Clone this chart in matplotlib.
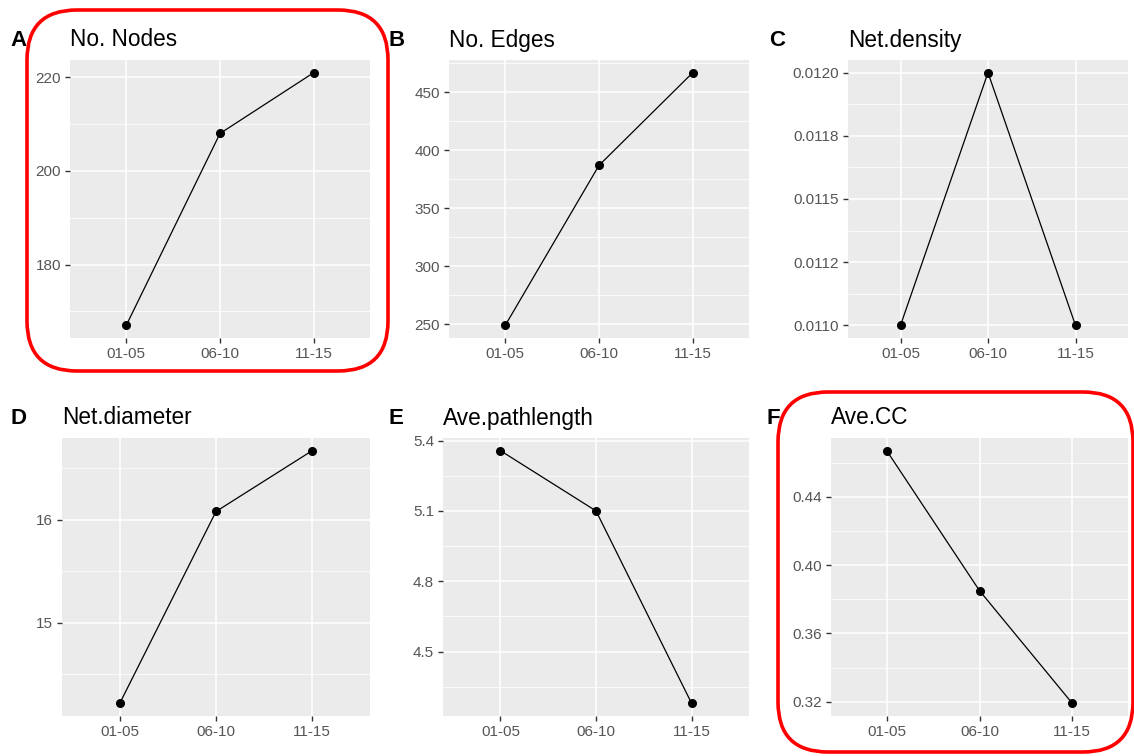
import matplotlib
matplotlib.use("Agg")
import matplotlib.pyplot as plt
from matplotlib.patches import FancyBboxPatch
import numpy as np

plt.rcParams['font.family'] = ['Liberation Sans', 'DejaVu Sans']

periods = ["01-05", "06-10", "11-15"]

nodes = [167, 208, 221]
edges = [249, 387, 467]
density = [0.0110, 0.0120, 0.0110]
diameter = [14.22, 16.08, 16.67]
pathlength = [5.357, 5.10, 4.279]
ave_cc = [0.467, 0.385, 0.319]

titles = ["No. Nodes", "No. Edges", "Net.density", "Net.diameter", "Ave.pathlength", "Ave.CC"]
letters = ["A", "B", "C", "D", "E", "F"]
series = [nodes, edges, density, diameter, pathlength, ave_cc]

major_ticks = [
    [180, 200, 220],
    [250, 300, 350, 400, 450],
    [0.011, 0.01125, 0.0115, 0.01175, 0.012],
    [15, 16],
    [4.5, 4.8, 5.1, 5.4],
    [0.32, 0.36, 0.40, 0.44],
]
tick_labels = [
    ["180", "200", "220"],
    ["250", "300", "350", "400", "450"],
    ["0.0110", "0.0112", "0.0115", "0.0118", "0.0120"],
    ["15", "16"],
    ["4.5", "4.8", "5.1", "5.4"],
    ["0.32", "0.36", "0.40", "0.44"],
]

W, H = 1134, 756
fig = plt.figure(figsize=(W / 100, H / 100), dpi=100)

# panel rectangles in pixels (left, top, right, bottom)
panels = [
    (70, 60, 370, 338),
    (449, 60, 749, 338),
    (848, 60, 1128, 338),
    (62, 438, 370, 716),
    (443, 438, 749, 716),
    (831, 438, 1128, 716),
]

for i, (l, t, r, b) in enumerate(panels):
    ax = fig.add_axes([l / W, 1 - b / H, (r - l) / W, (b - t) / H])
    vals = series[i]
    x = np.arange(len(periods))
    ax.set_facecolor("#EBEBEB")
    ax.plot(x, vals, color="black", lw=0.9, zorder=3)
    ax.plot(x, vals, "o", color="black", ms=5.5, zorder=4)
    mt = major_ticks[i]
    ax.set_yticks(mt)
    ax.set_yticklabels(tick_labels[i])
    step = mt[1] - mt[0]
    minors = [m - step / 2 for m in mt] + [mt[-1] + step / 2]
    ax.set_yticks(minors, minor=True)
    ax.set_xticks(x)
    ax.set_xticklabels(periods)
    vmin, vmax = min(vals), max(vals)
    pad = (vmax - vmin) * 0.05
    ax.set_ylim(vmin - pad, vmax + pad)
    ax.set_xlim(-0.6, 2.6)
    ax.grid(True, which="major", color="white", lw=1.1, zorder=0)
    ax.grid(True, which="minor", axis="y", color="white", lw=0.55, zorder=0)
    ax.set_axisbelow(True)
    for s in ax.spines.values():
        s.set_visible(False)
    ax.tick_params(axis="both", which="major", length=3.5, width=1.0,
                   color="#333333", labelcolor="#555555", labelsize=11, pad=3)
    ax.tick_params(axis="y", which="minor", length=0)
    ty = 40 if i < 3 else 418
    fig.text(l / W, 1 - ty / H, titles[i],
             fontsize=16.3, color="black", ha="left", va="center")
    lx = [10, 389, 769, 10, 389, 766][i]
    fig.text(lx / W, 1 - ty / H, letters[i], fontsize=16, fontweight="bold",
             color="black", ha="left", va="center")

# red rounded highlight boxes (pixel coordinates -> inches)
def red_box(l, t, r, b, rad):
    box = FancyBboxPatch((l / 100, (H - b) / 100), (r - l) / 100, (b - t) / 100,
                         boxstyle=f"round,pad=0,rounding_size={rad / 100}",
                         transform=fig.dpi_scale_trans, fill=False,
                         edgecolor="#FF0000", lw=2.6, zorder=10)
    fig.add_artist(box)

red_box(27, 10, 388, 371, 50)
red_box(778, 392, 1133, 752, 50)

fig.savefig("out.png", dpi=100)
